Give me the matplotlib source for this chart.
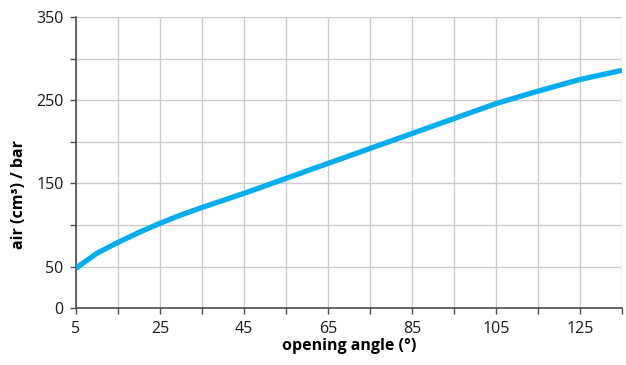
import numpy as np
import matplotlib.pyplot as plt

angle = [5, 10, 15, 20, 25, 30, 35, 45, 55, 65, 75, 85, 95, 105, 115, 125, 135]
air = [48, 66, 79, 91, 102, 112, 121, 138, 156, 174, 192, 210, 228, 246, 261, 275, 286]

xticks = np.arange(5, 136, 10)
xlabels = [str(v) if (v - 5) % 20 == 0 else '' for v in xticks]
yticks = np.arange(0, 351, 50)
ylabels = [str(v) if v in (0, 50, 150, 250, 350) else '' for v in yticks]

plt.rcParams['font.family'] = ['Open Sans', 'DejaVu Sans']

fig = plt.figure(figsize=(6.26, 3.65), dpi=100)
ax = fig.add_axes([0.1214, 0.156, 0.8722, 0.797])

ax.plot(angle, air, color='#00aeef', lw=3.8, solid_capstyle='butt',
        solid_joinstyle='round', zorder=3)

ax.set_xlim(5, 135)
ax.set_ylim(0, 350)
ax.set_xticks(xticks)
ax.set_xticklabels(xlabels)
ax.set_yticks(yticks)
ax.set_yticklabels(ylabels)
ax.grid(True, color='#cccccc', lw=1)
ax.set_axisbelow(True)

for s in ['top', 'right']:
    ax.spines[s].set_visible(False)
for s in ['left', 'bottom']:
    ax.spines[s].set_color('#4d4d4d')
    ax.spines[s].set_linewidth(1.2)
ax.tick_params(direction='out', length=4, width=1, color='#4d4d4d',
               labelsize=11.5, labelcolor='#1a1a1a', pad=5)

ax.set_xlabel('opening angle (°)', fontsize=11.5, fontweight='bold', labelpad=1)
ax.set_ylabel('air (cm³) / bar', fontsize=11.5, fontweight='bold')
ax.yaxis.set_label_coords(-0.09, 0.39)

fig.savefig('out.png', dpi=100)
